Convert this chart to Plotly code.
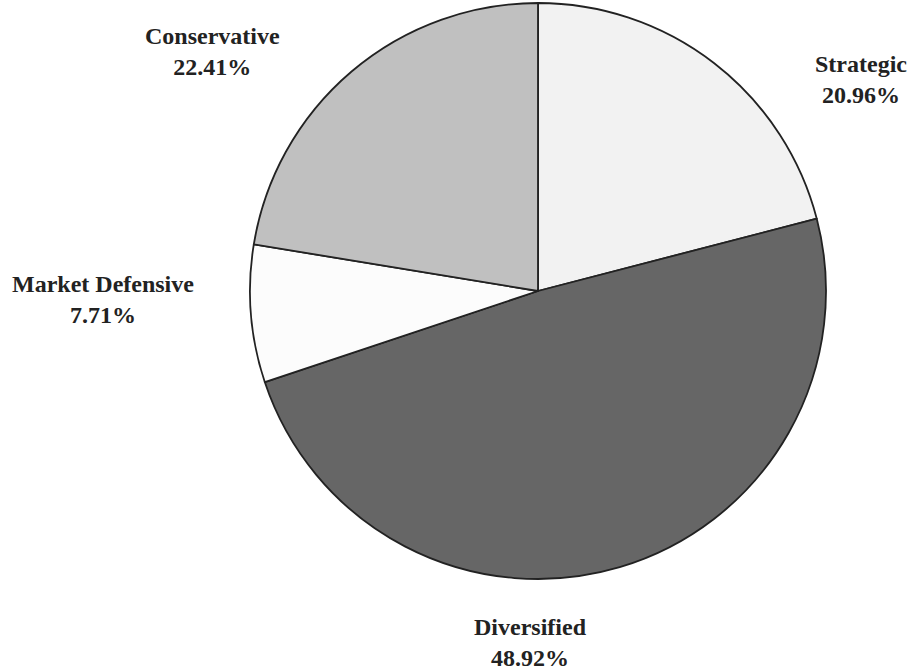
import plotly.graph_objects as go

# ---- data ----
categories = ["Strategic", "Diversified", "Market Defensive", "Conservative"]
shares = [20.96, 48.92, 7.71, 22.41]

# ---- styling / layout (kept apart from data) ----
slice_colors = ["#f2f2f2", "#666666", "#fcfcfc", "#c0c0c0"]
W, H = 915, 672
cx, cy, r = 538, 291, 288
# label block centres in pixels (x, y)
label_px = [(861, 79), (530, 642), (103, 299), (212, 52)]

fig = go.Figure(
    go.Pie(
        labels=categories,
        values=shares,
        sort=False,
        direction="clockwise",
        rotation=0,
        textinfo="none",
        hoverinfo="label+percent",
        marker=dict(colors=slice_colors, line=dict(color="#222222", width=1.8)),
        domain=dict(x=[(cx - r) / W, (cx + r) / W], y=[1 - (cy + r) / H, 1 - (cy - r) / H]),
        showlegend=False,
    )
)

for name, val, (px, py) in zip(categories, shares, label_px):
    fig.add_annotation(
        x=px / W, y=1 - py / H, xref="paper", yref="paper",
        xanchor="center", yanchor="middle", showarrow=False,
        text=f"<b>{name}</b><br><b>{val:.2f}%</b>",
        font=dict(family="Liberation Serif", size=24, color="#222222"),
        align="center",
    )

fig.update_layout(
    width=W, height=H,
    margin=dict(l=0, r=0, t=0, b=0),
    paper_bgcolor="white",
    plot_bgcolor="white",
)

fig.write_html(
    "out.html",
    config={"displayModeBar": False},
    post_script="document.body.style.margin='0';document.body.style.overflow='hidden';",
)
